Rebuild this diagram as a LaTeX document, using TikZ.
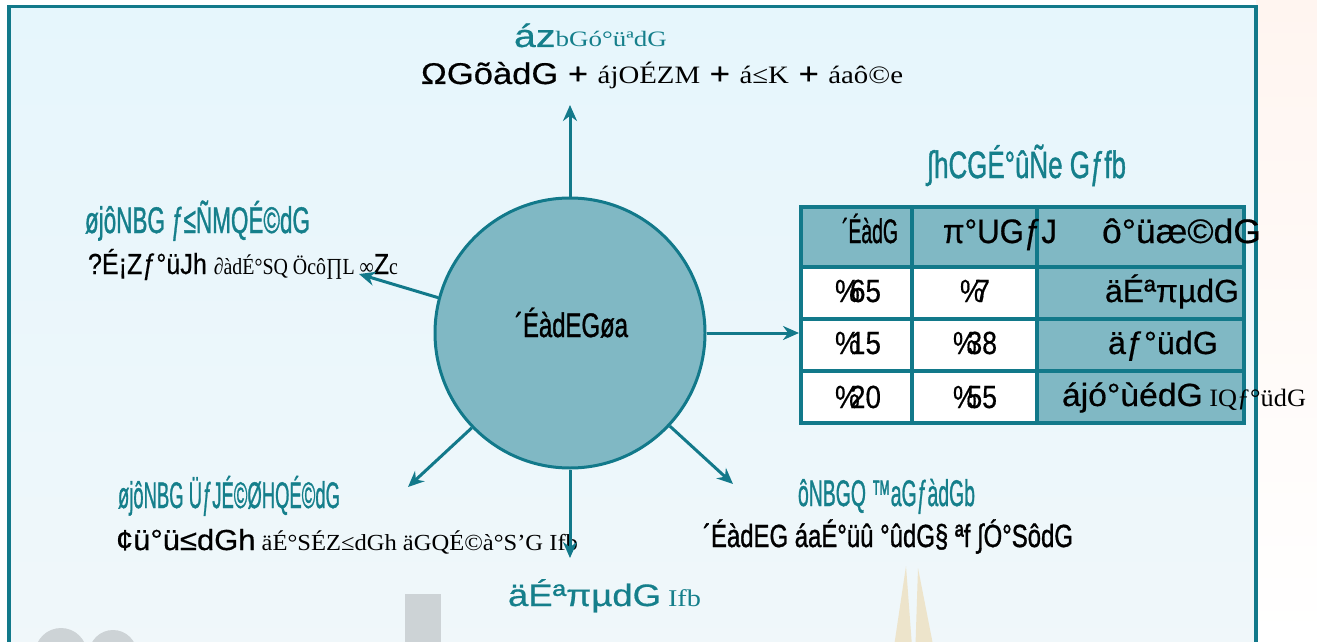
\documentclass[tikz,border=0pt]{standalone}
\usepackage{fontspec}
\usepackage{graphicx}
\usetikzlibrary{arrows.meta}
\newfontfamily\sansf[FakeBold=0.5]{Liberation Sans}
\newfontfamily\sansb[FakeBold=1.3]{Liberation Sans}
\newfontfamily\seriff{Liberation Serif}
\newcommand{\fsz}[1]{\fontsize{#1}{#1}\selectfont}
\newcommand{\wbox}[2]{\resizebox{#1}{\height}{#2}}
\definecolor{tealA}{HTML}{12798A}
\definecolor{tealT}{HTML}{157F8B}
\definecolor{circF}{HTML}{80B8C4}
\definecolor{bgTop}{HTML}{E6F6FC}
\definecolor{bgBot}{HTML}{F0F7FA}
\definecolor{decoGrey}{HTML}{CDD3D6}
\definecolor{decoBeige}{HTML}{EDE4CB}
\definecolor{peach}{HTML}{FFF5F0}
\begin{document}
\begin{tikzpicture}[x=1pt,y=-1pt,
  txt/.style={inner sep=0pt, outer sep=0pt, text=black},
  tealtxt/.style={inner sep=0pt, outer sep=0pt, text=tealT},
  arr/.style={draw=tealA, line width=3pt, -{Stealth[length=16pt,width=14pt]}},
  cellF/.style={draw=tealA, line width=4pt, fill=circF, inner sep=0pt},
  cellW/.style={draw=tealA, line width=4pt, fill=white, inner sep=0pt}]
\useasboundingbox (0,0) rectangle (1317,642);
\begin{scope}
\clip (0,0) rectangle (1317,642);
\fill[white] (0,0) rectangle (1317,642);
\shade[top color=peach, bottom color=white] (1256,0) rectangle (1317,642);
\shade[top color=bgTop, bottom color=bgBot] (9,6) rectangle (1256,660);
% faint background decorations
\fill[decoGrey] (405,594) rectangle (441,660);
\fill[decoGrey] (61,654) circle (26);
\fill[decoGrey] (113,654) circle (24);
\fill[decoBeige] (892,660) -- (906,566) -- (913,660) -- cycle;
\fill[decoBeige] (915,660) -- (918,568) -- (936,660) -- cycle;
\draw[tealA, line width=3.5pt] (9,660) -- (9,6.5) -- (1256,6.5) -- (1256,660);
\end{scope}

% central circle
\node[circle, draw=tealA, line width=3pt, fill=circF, minimum size=270pt, inner sep=0pt] (c) at (570,333) {};
\node[txt, anchor=base west] (ctext) at (515,337) {\wbox{113pt}{\sansb\fsz{34}´ÉàdEGøa}};

% table
\node[cellF, minimum width=111pt, minimum height=60pt] (h1) at (856.5,237) {};
\node[cellF, minimum width=125pt, minimum height=60pt] (h2) at (974.5,237) {};
\node[cellF, minimum width=207pt, minimum height=60pt] (h3) at (1140.5,237) {};
\node[cellW, minimum width=111pt, minimum height=52pt] (a1) at (856.5,293) {};
\node[cellW, minimum width=125pt, minimum height=52pt] (a2) at (974.5,293) {};
\node[cellF, minimum width=207pt, minimum height=52pt] (a3) at (1140.5,293) {};
\node[cellW, minimum width=111pt, minimum height=52pt] (b1) at (856.5,345) {};
\node[cellW, minimum width=125pt, minimum height=52pt] (b2) at (974.5,345) {};
\node[cellF, minimum width=207pt, minimum height=52pt] (b3) at (1140.5,345) {};
\node[cellW, minimum width=111pt, minimum height=52pt] (d1) at (856.5,397) {};
\node[cellW, minimum width=125pt, minimum height=52pt] (d2) at (974.5,397) {};
\node[cellF, minimum width=207pt, minimum height=52pt] (d3) at (1140.5,397) {};
\node[draw=tealA, line width=4pt, minimum width=443pt, minimum height=216pt, inner sep=0pt] (tbl) at (1022.5,315) {};

% table texts
\node[tealtxt, anchor=base west] (ttitle) at (927,178) {\wbox{199pt}{\sansb\fsz{38}∫hCGÉ°ûÑe Gƒfb}};
\node[txt, anchor=base west] (th1) at (842,243) {\wbox{56pt}{\sansb\fsz{34}´ÉàdG}};
\node[txt, anchor=base west] (th2) at (943,243) {\wbox{114pt}{\sansf\fsz{34}π°UGƒJ}};
\node[txt, anchor=base west] (th3) at (1102,243) {\wbox{159pt}{\sansf\fsz{34}ô°üæ©dG}};
\node[txt, anchor=base west] (ta1) at (835,302) {\wbox{46pt}{\sansf\fsz{32}\%\kern-.35em65}};
\node[txt, anchor=base west] (ta2) at (960,302) {\wbox{30pt}{\sansf\fsz{32}\%\kern-.35em7}};
\node[txt, anchor=base west] (ta3) at (1105,302) {\wbox{134pt}{\sansf\fsz{32}äÉªπµdG}};
\node[txt, anchor=base west] (tb1) at (835,354) {\wbox{46pt}{\sansf\fsz{32}\%\kern-.35em15}};
\node[txt, anchor=base west] (tb2) at (953,354) {\wbox{44pt}{\sansf\fsz{32}\%\kern-.35em38}};
\node[txt, anchor=base west] (tb3) at (1108,354) {\wbox{110pt}{\sansf\fsz{32}äƒ°üdG}};
\node[txt, anchor=base west] (td1) at (835,408) {\wbox{46pt}{\sansf\fsz{32}\%\kern-.35em20}};
\node[txt, anchor=base west] (td2) at (953,408) {\wbox{44pt}{\sansf\fsz{32}\%\kern-.35em55}};
\node[txt, anchor=base west] (td3) at (1062,406) {\wbox{244pt}{\sansf\fsz{32}ájó°ùédG\seriff\fsz{25} IQƒ°üdG}};

% surrounding labels
\node[tealtxt, anchor=base west] (topT) at (514,47) {\wbox{153pt}{\sansf\fsz{32}áz\seriff\fsz{22}bGó°üªdG}};
\node[txt, anchor=base west] (topB) at (421,84) {\wbox{482pt}{\sansf\fsz{30}ΩGõàdG + {\seriff\fsz{25}ájOÉZM} + {\seriff\fsz{25}á≤K} + {\seriff\fsz{25}áaô©e}}};

\node[tealtxt, anchor=base west] (ltT) at (85,233) {\wbox{225pt}{\sansb\fsz{37}øjôNBG ƒ≤ÑMQÉ©dG}};
\node[txt, anchor=base west] (ltB) at (88,274) {\wbox{310pt}{\sansf\fsz{29}?É¡Zƒ°üJh {\seriff\fsz{23}∂àdÉ°SQ Öcô∏L ∞}Z{\seriff\fsz{23}c}}};

\node[tealtxt, anchor=base west] (blT) at (118,508) {\wbox{222pt}{\sansb\fsz{37}øjôNBG ÜƒJÉ©ØHQÉ©dG}};
\node[txt, anchor=base east] (blB) at (578,550) {\wbox{462pt}{\sansf\fsz{29}¢ü°ü≤dGh{\seriff\fsz{23} äÉ°SÉZ≤dGh äGQÉ©à°S’G Ifb}}};

\node[tealtxt, anchor=base west] (brT) at (798,506) {\wbox{177pt}{\sansb\fsz{37}ôNBGQ ™aGƒàdGb}};
\node[txt, anchor=base west] (brB) at (703,547) {\wbox{370pt}{\sansb\fsz{32}´ÉàdEG áaÉ°üû °ûdG§ ªf ∫Ó°SôdG}};

\node[tealtxt, anchor=base west] (botT) at (508,606) {\wbox{193pt}{\sansf\fsz{31}äÉªπµdG\seriff\fsz{24} Ifb}};

% connectors
\coordinate (tipU) at (570,105);
\coordinate (tipUL) at (359,274);
\coordinate (tipDL) at (408,487);
\coordinate (tipD) at (570,558);
\coordinate (tipDR) at (733,484);
\draw[arr] (c.north) -- (tipU);
\draw[arr] (c.165) -- (tipUL);
\draw[arr] (c.east) -- (c.east -| tbl.west);
\draw[arr] (c.224) -- (tipDL);
\draw[arr] (c.south) -- (tipD);
\draw[arr] (c.317) -- (tipDR);
\end{tikzpicture}
\end{document}
